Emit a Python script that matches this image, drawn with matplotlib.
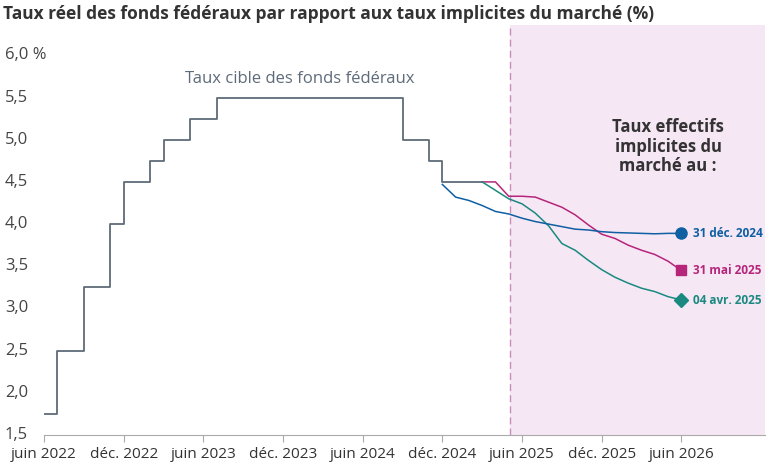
import matplotlib
matplotlib.use("Agg")
import matplotlib.pyplot as plt
from matplotlib.transforms import blended_transform_factory

# month index: 0 = juin 2022
fed_m = [0, 1, 3, 5, 6, 8, 9, 11, 13, 27, 29, 30, 33]
fed_v = [1.75, 2.5, 3.25, 4.0, 4.5, 4.75, 5.0, 5.25, 5.5, 5.0, 4.75, 4.5, 4.5]

dec24_m = list(range(30, 49))
dec24_v = [4.47, 4.32, 4.28, 4.22, 4.15, 4.12, 4.07, 4.03, 4.0, 3.97, 3.94, 3.93, 3.91, 3.90, 3.895, 3.89, 3.885, 3.89, 3.89]
avr25_m = list(range(33, 49))
avr25_v = [4.5, 4.4, 4.3, 4.24, 4.13, 3.98, 3.77, 3.69, 3.57, 3.46, 3.37, 3.3, 3.24, 3.2, 3.14, 3.1]
mai25_m = list(range(33, 49))
mai25_v = [4.5, 4.5, 4.33, 4.33, 4.32, 4.26, 4.2, 4.11, 3.99, 3.88, 3.83, 3.75, 3.69, 3.64, 3.56, 3.45]

tick_m = [0, 6, 12, 18, 24, 30, 36, 42, 48]
tick_lbl = ["juin 2022", "déc. 2022", "juin 2023", "déc. 2023", "juin 2024",
            "déc. 2024", "juin 2025", "déc. 2025", "juin 2026"]
y_ticks = [1.5, 2.0, 2.5, 3.0, 3.5, 4.0, 4.5, 5.0, 5.5, 6.0]
y_lbl = ["1,5", "2,0", "2,5", "3,0", "3,5", "4,0", "4,5", "5,0", "5,5", "6,0 %"]

gray = "#5f6b7a"; blue = "#0f5fa3"; mag = "#b5257a"; teal = "#1a8a80"
plt.rcParams["font.family"] = "Open Sans"

fig = plt.figure(figsize=(7.67, 4.65), dpi=100)
ax = fig.add_axes([44/767, 30/465, 721/767, 410/465])
ax.set_xlim(0, 54.3)
ax.set_ylim(1.5, 6.36)

ax.axvspan(35.1, 54.3, color="#f6e7f5", zorder=0, lw=0)
ax.axvline(35.1, color="#c98bb8", ls=(0, (5, 3)), lw=1)

ax.plot(fed_m, fed_v, drawstyle="steps-post", color=gray, lw=1.3)
ax.plot(mai25_m, mai25_v, color=mag, lw=1.1)
ax.plot(avr25_m, avr25_v, color=teal, lw=1.1)
ax.plot(dec24_m, dec24_v, color=blue, lw=1.1)
ax.plot(dec24_m[-1], dec24_v[-1], "o", color=blue, ms=8)
ax.plot(mai25_m[-1], mai25_v[-1], "s", color=mag, ms=7)
ax.plot(avr25_m[-1], avr25_v[-1], "D", color=teal, ms=7)
for v, lbl, c in [(dec24_v[-1], "31 déc. 2024", blue), (mai25_v[-1], "31 mai 2025", mag),
                  (avr25_v[-1], "04 avr. 2025", teal)]:
    ax.text(48.9, v, lbl, color=c, fontsize=8.5, fontweight="bold", va="center")

ax.text(47, 4.58, "Taux effectifs\nimplicites du\nmarché au :", color="#333333", fontsize=12,
        fontweight="bold", ha="center", va="bottom", linespacing=1.1)
ax.text(10.6, 5.72, "Taux cible des fonds fédéraux", color=gray, fontsize=12, va="center")

ax.set_xticks(tick_m)
ax.set_xticklabels(tick_lbl, fontsize=11, color="#333333")
ax.set_yticks([])
tr = blended_transform_factory(fig.transFigure, ax.transData)
for v, l in zip(y_ticks, y_lbl):
    fig.text(5/767, v, l, transform=tr, fontsize=12, color="#444444", ha="left", va="center")
ax.tick_params(axis="x", length=5, color="#aaaaaa")
for s in ["top", "right", "left"]:
    ax.spines[s].set_visible(False)
ax.spines["bottom"].set_color("#aaaaaa")

fig.text(3/767, 1 - 14/465, "Taux réel des fonds fédéraux par rapport aux taux implicites du marché (%)",
         fontsize=12.5, fontweight="bold", color="#333333", va="center")
fig.savefig("out.png", dpi=100)
